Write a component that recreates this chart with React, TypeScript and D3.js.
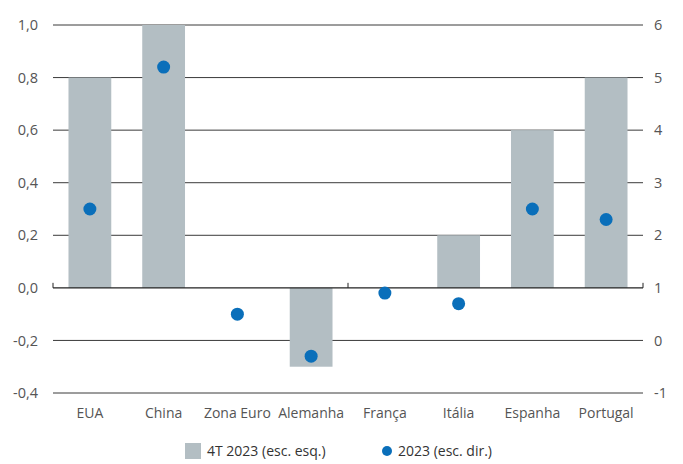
import React from "react";
import * as d3 from "d3";

const categories = ["EUA", "China", "Zona Euro", "Alemanha", "França", "Itália", "Espanha", "Portugal"];
const barValues = [0.8, 1.0, 0, -0.3, 0, 0.2, 0.6, 0.8];
const dotValues = [2.5, 5.2, 0.5, -0.3, 0.9, 0.7, 2.5, 2.3];
const leftTicks = [-0.4, -0.2, 0, 0.2, 0.4, 0.6, 0.8, 1.0];
const rightTicks = [-1, 0, 1, 2, 3, 4, 5, 6];
const seriesNames = ["4T 2023 (esc. esq.)", "2023 (esc. dir.)"];

const W = 683, H = 464;
const M = { left: 53, right: 40, top: 25, bottom: 71 };
const barColor = "#b3bec3";
const dotColor = "#0a6fba";
const textColor = "#555";
const font = "'Open Sans', 'Noto Sans', sans-serif";

export default function App() {
  const x = d3.scaleBand().domain(categories).range([M.left, W - M.right]).paddingInner(0.42).paddingOuter(0.21);
  const yL = d3.scaleLinear().domain([-0.4, 1.0]).range([H - M.bottom, M.top]);
  const yR = d3.scaleLinear().domain([-1, 6]).range([H - M.bottom, M.top]);
  const x0 = M.left, x1 = W - M.right;
  const step = (x1 - x0) / categories.length;
  const axisTicks = [0, 4, 8].map((i) => x0 + i * step);
  const fmt = (v: number) => d3.format(".1f")(v).replace(".", ",").replace("−", "-");
  return (
    <svg width={W} height={H} style={{ position: "absolute", left: 0, top: 0, background: "#fff" }}>
      {leftTicks.filter((t) => t !== 0).map((t) => (
        <line key={t} x1={x0} x2={x1} y1={yL(t)} y2={yL(t)} stroke="#3a3a3a" strokeWidth={1} />
      ))}
      {categories.map((c, i) => {
        const v = barValues[i];
        return (
          <rect key={c} x={x(c)} width={x.bandwidth()} y={Math.min(yL(v), yL(0))} height={Math.abs(yL(v) - yL(0))} fill={barColor} />
        );
      })}
      <line x1={x0} x2={x1} y1={yL(0)} y2={yL(0)} stroke="#222" strokeWidth={1.2} />
      {axisTicks.map((tx, i) => (
        <line key={i} x1={tx} x2={tx} y1={yL(0)} y2={yL(0) - 5} stroke="#222" strokeWidth={1} />
      ))}
      {categories.map((c, i) => (
        <circle key={c} cx={x(c)! + x.bandwidth() / 2} cy={yR(dotValues[i])} r={6.5} fill={dotColor} />
      ))}
      {leftTicks.map((t) => (
        <text key={t} x={38} y={yL(t)} dy="0.35em" textAnchor="end" fontSize={14.5} fill={textColor} fontFamily={font}>
          {fmt(t)}
        </text>
      ))}
      {rightTicks.map((t) => (
        <text key={t} x={654} y={yR(t)} dy="0.35em" textAnchor="start" fontSize={14.5} fill={textColor} fontFamily={font}>
          {String(t)}
        </text>
      ))}
      {categories.map((c) => (
        <text key={c} x={x(c)! + x.bandwidth() / 2} y={418} textAnchor="middle" fontSize={14} fill={textColor} fontFamily={font}>
          {c}
        </text>
      ))}
      <rect x={185} y={443} width={16} height={16} fill={barColor} />
      <text x={207} y={456} fontSize={14} fill="#333" fontFamily={font}>{seriesNames[0]}</text>
      <circle cx={387} cy={451} r={5} fill={dotColor} />
      <text x={398} y={456} fontSize={14} fill="#333" fontFamily={font}>{seriesNames[1]}</text>
    </svg>
  );
}
